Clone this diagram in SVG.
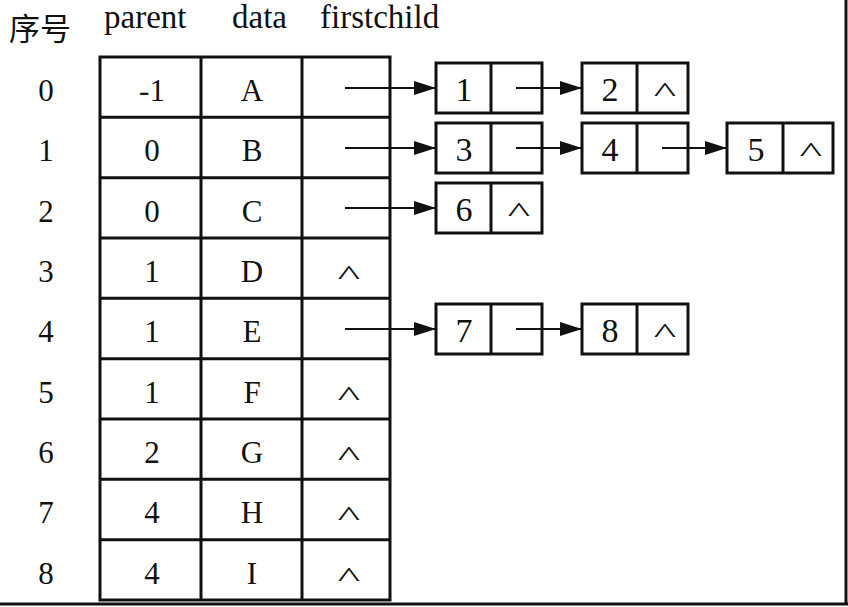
<svg xmlns="http://www.w3.org/2000/svg" width="848" height="607" viewBox="0 0 848 607">
<style>
.t{font-family:"Liberation Serif","Times New Roman",serif;font-size:31px;fill:#111;text-anchor:middle}
.n{font-family:"Liberation Serif","Times New Roman",serif;font-size:34px;fill:#111;text-anchor:middle}
.h{font-family:"Liberation Serif","Times New Roman",serif;font-size:33px;fill:#111}
.c{font-family:"Noto Sans CJK SC",sans-serif;font-size:31px;fill:#111}
.k{font-family:"Liberation Serif","Times New Roman",serif;font-size:28px;fill:#111;text-anchor:middle}
.box{fill:#fff;stroke:#111;stroke-width:3}
.ln{stroke:#111;stroke-width:3}
.ar{stroke:#111;stroke-width:2;fill:none;marker-end:url(#ah)}
</style>
<defs>
<marker id="ah" markerUnits="userSpaceOnUse" markerWidth="24" markerHeight="16" refX="22" refY="7" orient="auto">
<path d="M0,0 L22,7 L0,14 z" fill="#111"/>
</marker>
</defs>
<rect width="848" height="607" fill="#fff"/>
<g id="border">
<line x1="846" y1="0" x2="846" y2="604" class="ln"/>
<line x1="0" y1="604" x2="848" y2="604" class="ln"/>
</g>
<g id="header">
<text class="c" x="9" y="40">序号</text>
<text class="h" x="104" y="28">parent</text>
<text class="h" x="232" y="28">data</text>
<text class="h" x="320" y="28">firstchild</text>
</g>
<g id="table">
<rect class="box" x="100" y="57" width="290" height="543"/>
<line class="ln" x1="201" y1="57" x2="201" y2="600"/>
<line class="ln" x1="302" y1="57" x2="302" y2="600"/>
<line class="ln" x1="100" y1="117.3" x2="390" y2="117.3"/>
<line class="ln" x1="100" y1="177.7" x2="390" y2="177.7"/>
<line class="ln" x1="100" y1="238" x2="390" y2="238"/>
<line class="ln" x1="100" y1="298.3" x2="390" y2="298.3"/>
<line class="ln" x1="100" y1="358.7" x2="390" y2="358.7"/>
<line class="ln" x1="100" y1="419" x2="390" y2="419"/>
<line class="ln" x1="100" y1="479.3" x2="390" y2="479.3"/>
<line class="ln" x1="100" y1="539.7" x2="390" y2="539.7"/>
</g>
<g id="rows">
<g id="row0"><text class="t" x="46" y="101">0</text><text class="t" x="152" y="101">-1</text><text class="t" x="252" y="101">A</text></g>
<g id="row1"><text class="t" x="46" y="161">1</text><text class="t" x="152" y="161">0</text><text class="t" x="252" y="161">B</text></g>
<g id="row2"><text class="t" x="46" y="222">2</text><text class="t" x="152" y="222">0</text><text class="t" x="252" y="222">C</text></g>
<g id="row3"><text class="t" x="46" y="282">3</text><text class="t" x="152" y="282">1</text><text class="t" x="252" y="282">D</text><text class="k" transform="translate(349,284) scale(1.7,1)">^</text></g>
<g id="row4"><text class="t" x="46" y="342">4</text><text class="t" x="152" y="342">1</text><text class="t" x="252" y="342">E</text></g>
<g id="row5"><text class="t" x="46" y="403">5</text><text class="t" x="152" y="403">1</text><text class="t" x="252" y="403">F</text><text class="k" transform="translate(349,405) scale(1.7,1)">^</text></g>
<g id="row6"><text class="t" x="46" y="463">6</text><text class="t" x="152" y="463">2</text><text class="t" x="252" y="463">G</text><text class="k" transform="translate(349,465) scale(1.7,1)">^</text></g>
<g id="row7"><text class="t" x="46" y="523">7</text><text class="t" x="152" y="523">4</text><text class="t" x="252" y="523">H</text><text class="k" transform="translate(349,525) scale(1.7,1)">^</text></g>
<g id="row8"><text class="t" x="46" y="584">8</text><text class="t" x="152" y="584">4</text><text class="t" x="252" y="584">I</text><text class="k" transform="translate(349,586) scale(1.7,1)">^</text></g>
</g>
<g id="n1"><rect class="box" x="436" y="63" width="106" height="50"/><line class="ln" x1="491" y1="63" x2="491" y2="113"/><text class="n" x="464" y="101">1</text></g>
<g id="n2"><rect class="box" x="582" y="63" width="106" height="50"/><line class="ln" x1="637" y1="63" x2="637" y2="113"/><text class="n" x="610" y="101">2</text><text class="k" transform="translate(665,101) scale(1.7,1)">^</text></g>
<g id="n3"><rect class="box" x="436" y="123" width="106" height="50"/><line class="ln" x1="491" y1="123" x2="491" y2="173"/><text class="n" x="464" y="161">3</text></g>
<g id="n4"><rect class="box" x="582" y="123" width="106" height="50"/><line class="ln" x1="637" y1="123" x2="637" y2="173"/><text class="n" x="610" y="161">4</text></g>
<g id="n5"><rect class="box" x="727" y="123" width="106" height="50"/><line class="ln" x1="783" y1="123" x2="783" y2="173"/><text class="n" x="756" y="161">5</text><text class="k" transform="translate(811,161) scale(1.7,1)">^</text></g>
<g id="n6"><rect class="box" x="436" y="183" width="106" height="50"/><line class="ln" x1="491" y1="183" x2="491" y2="233"/><text class="n" x="464" y="221">6</text><text class="k" transform="translate(519,221) scale(1.7,1)">^</text></g>
<g id="n7"><rect class="box" x="436" y="304" width="106" height="50"/><line class="ln" x1="491" y1="304" x2="491" y2="354"/><text class="n" x="464" y="342">7</text></g>
<g id="n8"><rect class="box" x="582" y="304" width="106" height="50"/><line class="ln" x1="637" y1="304" x2="637" y2="354"/><text class="n" x="610" y="342">8</text><text class="k" transform="translate(665,342) scale(1.7,1)">^</text></g>
<g id="connectors">
<line class="ar" x1="345" y1="88" x2="436" y2="88"/>
<line class="ar" x1="516" y1="88" x2="582" y2="88"/>
<line class="ar" x1="345" y1="148" x2="436" y2="148"/>
<line class="ar" x1="516" y1="148" x2="582" y2="148"/>
<line class="ar" x1="662" y1="148" x2="727" y2="148"/>
<line class="ar" x1="345" y1="208" x2="436" y2="208"/>
<line class="ar" x1="345" y1="329" x2="436" y2="329"/>
<line class="ar" x1="516" y1="329" x2="582" y2="329"/>
</g>
</svg>
